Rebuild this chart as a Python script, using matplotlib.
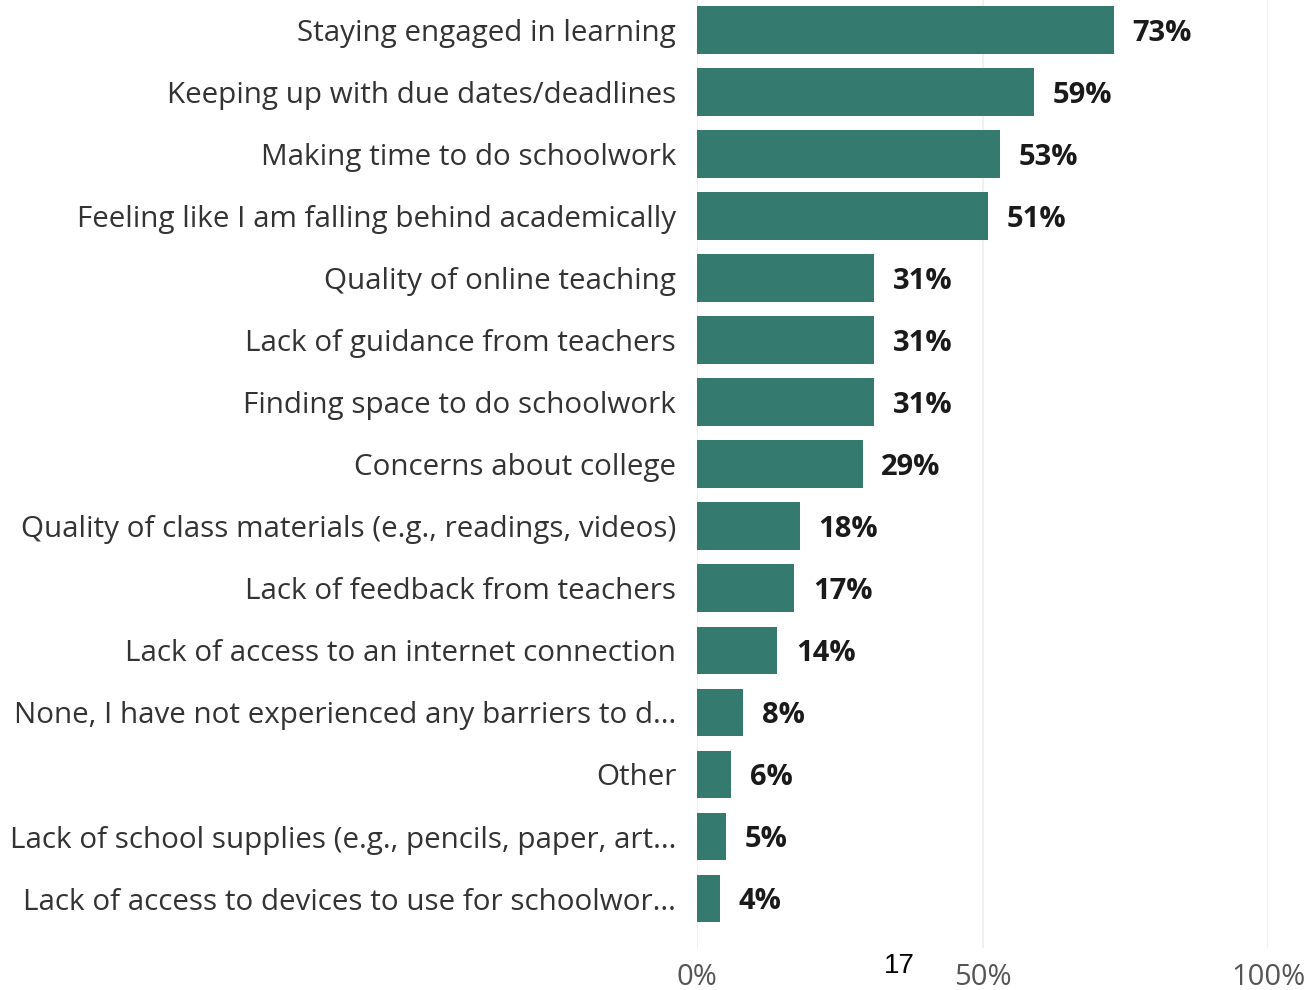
import matplotlib
matplotlib.use("Agg")
import matplotlib.pyplot as plt

categories = [
    "Staying engaged in learning",
    "Keeping up with due dates/deadlines",
    "Making time to do schoolwork",
    "Feeling like I am falling behind academically",
    "Quality of online teaching",
    "Lack of guidance from teachers",
    "Finding space to do schoolwork",
    "Concerns about college",
    "Quality of class materials (e.g., readings, videos)",
    "Lack of feedback from teachers",
    "Lack of access to an internet connection",
    "None, I have not experienced any barriers to d...",
    "Other",
    "Lack of school supplies (e.g., pencils, paper, art...",
    "Lack of access to devices to use for schoolwor...",
]
values = [73, 59, 53, 51, 31, 31, 31, 29, 18, 17, 14, 8, 6, 5, 4]
xticks = [0, 50, 100]
xtick_labels = ["0%", "50%", "100%"]

W, H = 1311, 990
fig = plt.figure(figsize=(W / 100, H / 100), dpi=100)
left = 697 / W
right = 1268 / W
ax = fig.add_axes([left, 1 - 948 / H, right - left, 948 / H])

bar_color = "#347A6E"
font = "Open Sans"
pos = list(range(len(categories)))
ax.barh(pos, values, height=0.77, color=bar_color, zorder=3)
ax.set_xlim(0, 100)
ax.set_ylim(14.797, -0.4836)

for p, v in zip(pos, values):
    ax.text(v + 3.3, p + 0.05, f"{v}%", va="center", ha="left",
            fontsize=21, fontweight="bold", color="#1a1a1a",
            family=font, clip_on=False)

ax.set_yticks(pos)
ax.set_yticklabels(categories, fontsize=21.3, color="#333333", family=font)
ax.tick_params(axis="y", length=0, pad=15)
ax.set_xticks(xticks)
ax.set_xticklabels(xtick_labels, fontsize=21, color="#555555", family=font)
ax.tick_params(axis="x", length=0, pad=11)
ax.grid(axis="x", color="#eeeeee", linewidth=1.2, zorder=0)
for s in ax.spines.values():
    s.set_visible(False)

fig.text(899 / W, 1 - 966 / H, "17", ha="center", va="center",
         fontsize=20, color="black", family="Liberation Sans")

fig.savefig("out.png", dpi=100)
